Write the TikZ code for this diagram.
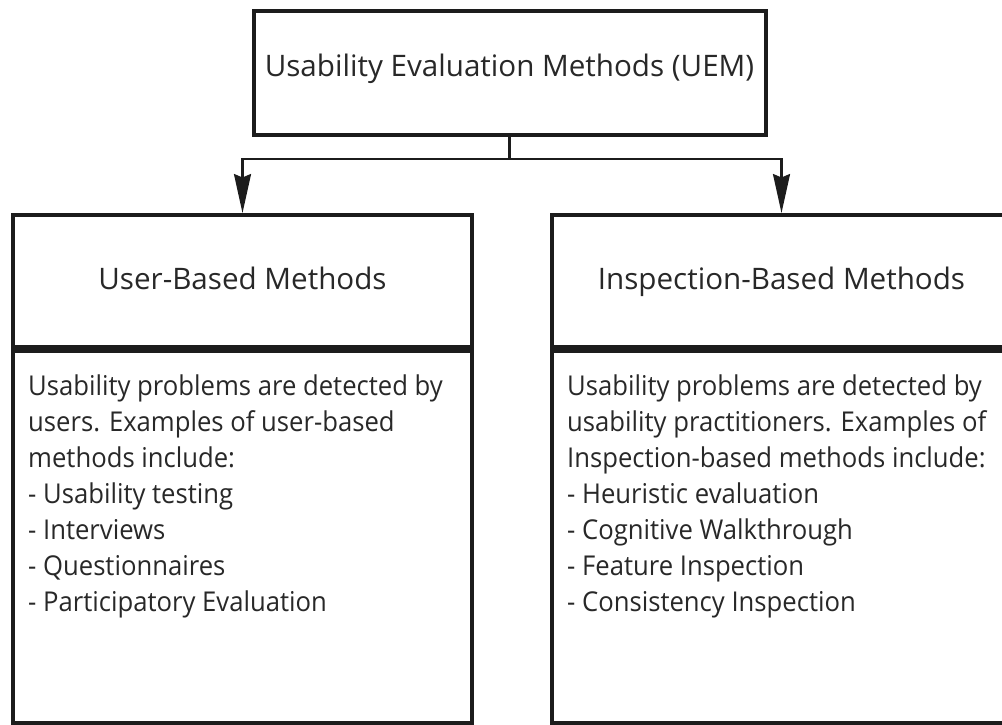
\documentclass[tikz,border=0pt]{standalone}
\usepackage{fontspec}
\setmainfont{Open Sans}
\newfontfamily\bodyfont[FakeStretch=0.94]{Open Sans}
\usetikzlibrary{arrows.meta}
\definecolor{linec}{RGB}{28,28,28}
\definecolor{textc}{RGB}{40,40,40}
\tikzset{
  boxline/.style={draw=linec, line width=4pt, fill=white, inner sep=0pt},
  titlebox/.style={boxline, minimum width=512pt, minimum height=124.5pt,
    text height=22pt, text depth=14pt, font=\fontsize{29.6}{34}\selectfont, text=textc},
  headbox/.style={boxline, minimum width=459pt, minimum height=132pt,
    text height=22pt, text depth=6pt, font=\fontsize{29.6}{34}\selectfont, text=textc},
  bodybox/.style={boxline, minimum width=459pt, minimum height=372pt},
  bodytext/.style={anchor=north west, inner sep=0pt, align=left,
    font=\bodyfont\fontsize{27.3}{36}\selectfont, text=textc},
  conn/.style={draw=linec, line width=2.2pt, -{Stealth[length=39pt, width=17pt, inset=3.5pt]}},
}
\begin{document}
\begin{tikzpicture}[x=1pt, y=-1pt]
\useasboundingbox (0,0) rectangle (1002,724);
% top box
\node[titlebox] (uem) at (509.5,72.75) {Usability Evaluation Methods (UEM)};
% left column
\node[bodybox] (ubody) at (242.5,537) {};
\node[headbox] (ub) at (242.5,281) {User-Based Methods};
\node[bodytext] (utext) at (28,374.5) {Usability problems are detected by\\
users. Examples of user-based\\
methods include:\\
- Usability testing\\
- Interviews\\
- Questionnaires\\
- Participatory Evaluation};
% right column
\node[bodybox] (ibody) at (781.5,537) {};
\node[headbox] (ib) at (781.5,281) {Inspection-Based Methods};
\node[bodytext] (itext) at (567,374.5) {Usability problems are detected by\\
usability practitioners. Examples of\\
Inspection-based methods include:\\
- Heuristic evaluation\\
- Cognitive Walkthrough\\
- Feature Inspection\\
- Consistency Inspection};
% connectors
\coordinate (hub) at ([yshift=-22pt]uem.south);
\draw[draw=linec, line width=2.5pt] (uem.south) -- (hub);
\draw[conn] (hub) -| (ub.north);
\draw[conn] (hub) -| (ib.north);
\end{tikzpicture}
\end{document}
